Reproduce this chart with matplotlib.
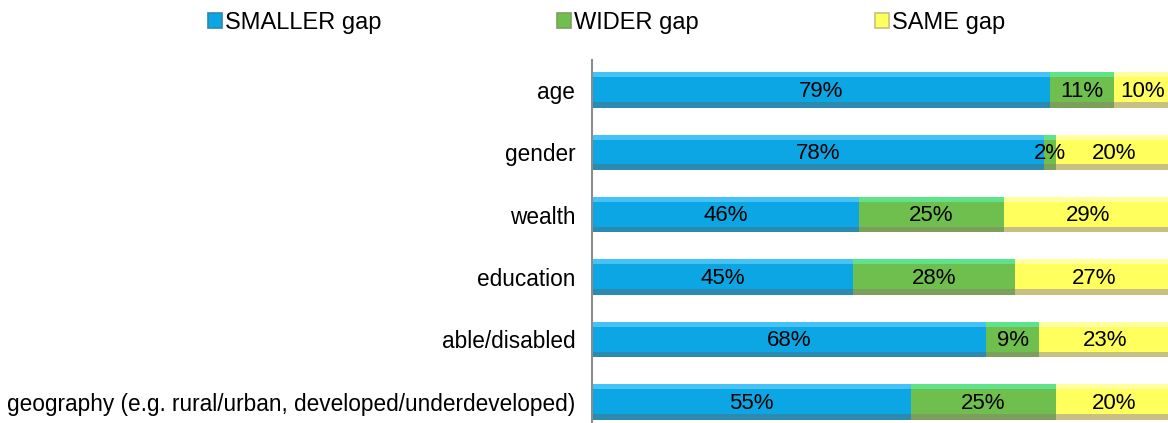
import matplotlib
matplotlib.use("Agg")
import matplotlib.pyplot as plt
from matplotlib.patches import Rectangle

categories = ["age", "gender", "wealth", "education", "able/disabled",
              "geography (e.g. rural/urban, developed/underdeveloped)"]
series = ["SMALLER gap", "WIDER gap", "SAME gap"]
smaller = [79, 78, 46, 45, 68, 55]
wider = [11, 2, 25, 28, 9, 25]
same = [10, 20, 29, 27, 23, 20]

# main, top highlight, bottom shade
colors = {
    "SMALLER gap": ("#0ba6e3", "#45c3f6", "#2b8ab0"),
    "WIDER gap": ("#6fbf4f", "#5ee38a", "#7c9f5c"),
    "SAME gap": ("#ffff5e", "#ffffa0", "#c8bf82"),
}

plt.rcParams["font.family"] = ["Liberation Sans", "DejaVu Sans"]

fig = plt.figure(figsize=(11.68, 4.23), dpi=100)
ax = fig.add_axes([592 / 1168, 0.0, 1 - 592 / 1168, 1 - 60 / 423])

ypos = list(range(len(categories)))
h = 0.57
left = [0] * len(categories)
for name, vals in zip(series, [smaller, wider, same]):
    main, top, bot = colors[name]
    ax.barh(ypos, vals, left=left, height=h, color=main, linewidth=0)
    # bevel look: light strip on top, dark strip at bottom
    ax.barh([y - h / 2 + 0.04 for y in ypos], vals, left=left, height=0.08,
            color=top, linewidth=0)
    ax.barh([y + h / 2 - 0.045 for y in ypos], vals, left=left, height=0.09,
            color=bot, linewidth=0)
    for y, v, l in zip(ypos, vals, left):
        ax.text(l + v / 2, y + 0.02, f"{v}%", ha="center", va="center",
                fontsize=16, color="black")
    left = [l + v for l, v in zip(left, vals)]

ax.set_xlim(0, 99.3)
ax.set_ylim(5 + 0.34, -0.48)
ax.set_yticks(ypos)
ax.set_yticklabels(categories, fontsize=16.3)
ax.tick_params(axis="y", length=0, pad=12)
ax.set_xticks([])
for s in ["top", "right", "bottom"]:
    ax.spines[s].set_visible(False)
ax.spines["left"].set_color("#8c8c8c")
ax.spines["left"].set_linewidth(1.5)

# legend entries spread along the top
leg_x = [208 / 1168, 557 / 1168, 875 / 1168]
for name, x in zip(series, leg_x):
    main, top, bot = colors[name]
    handle = Rectangle((0, 0), 1, 1, facecolor=main, edgecolor=bot, linewidth=1.2)
    leg = fig.legend([handle], [name], loc="center left",
                     bbox_to_anchor=(x, 1 - 23 / 423), frameon=False,
                     fontsize=17, handlelength=0.58, handleheight=0.58,
                     handletextpad=0.15, borderpad=0, borderaxespad=0)

fig.savefig("out.png", dpi=100)
